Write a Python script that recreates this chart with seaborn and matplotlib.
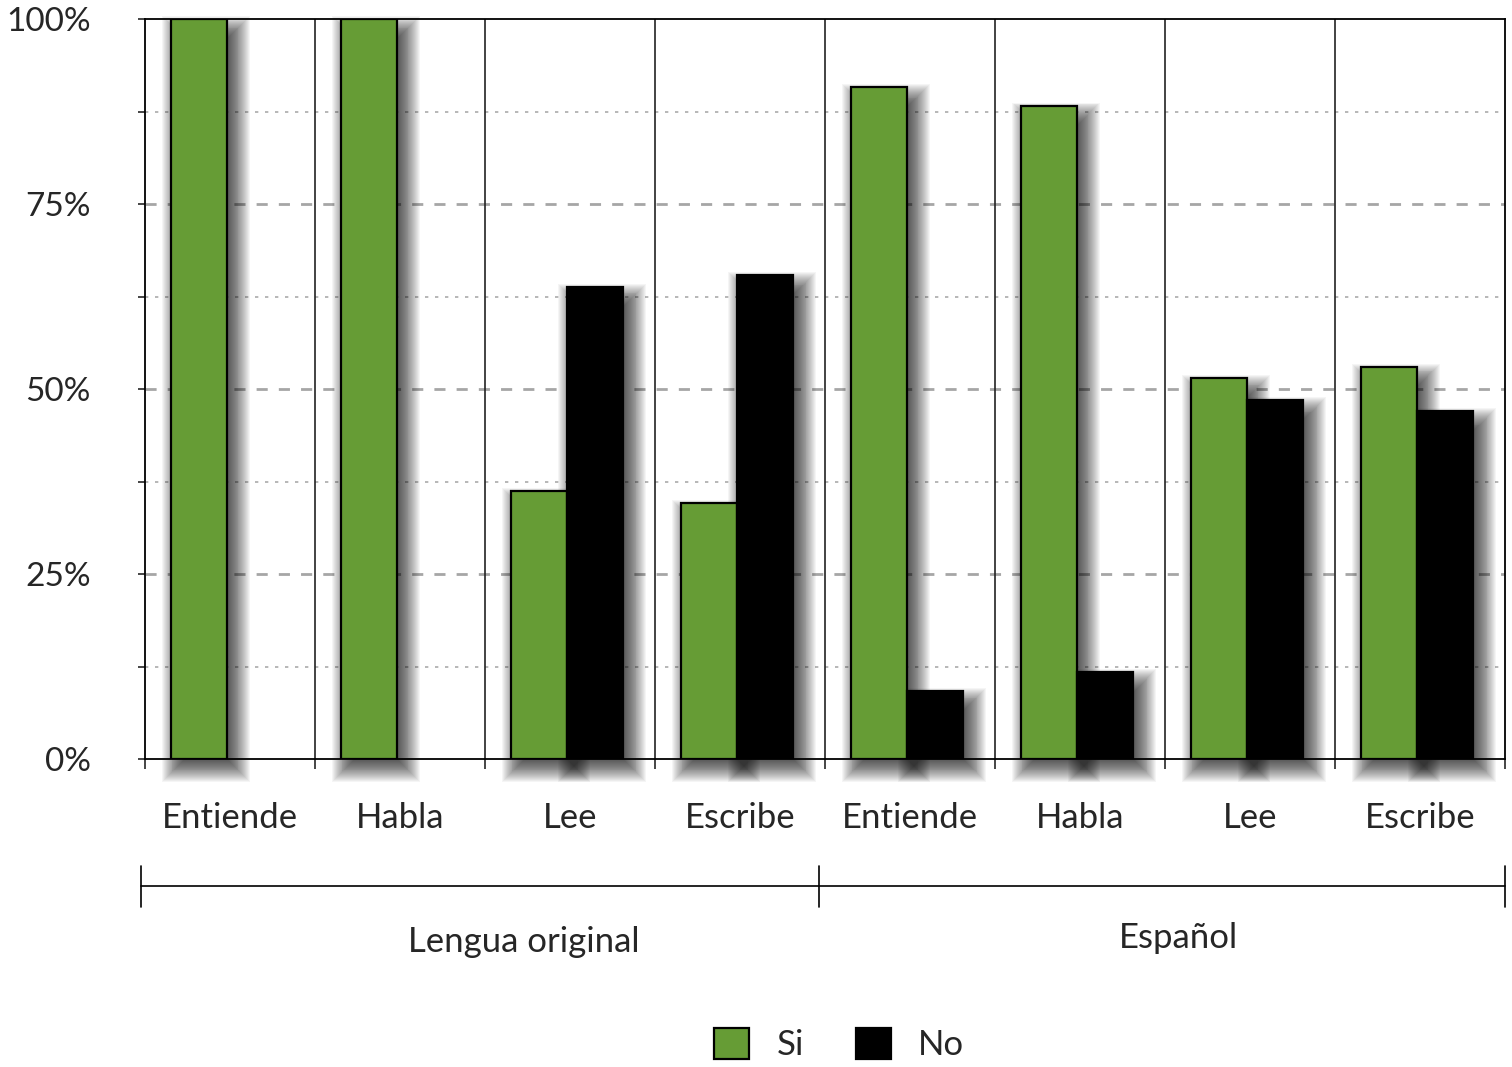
import numpy as np
import pandas as pd
import matplotlib
matplotlib.use("Agg")
from matplotlib import pyplot as plt
from matplotlib.patches import Rectangle, Patch
import matplotlib.transforms as mtransforms
import seaborn as sns

sns.set_style("white")
plt.rcParams["font.family"] = ["Lato", "DejaVu Sans"]

# data
habilidades = ["Entiende", "Habla", "Lee", "Escribe"]
grupos = ["Lengua original", "Español"]
respuestas = ["Si", "No"]
si = [100, 100, 36.2, 34.6, 90.8, 88.3, 51.5, 53.0]
no = [0, 0, 63.8, 65.4, 9.2, 11.7, 48.5, 47.0]
colores = ["#669C35", "#000000"]

cats = [g + "|" + h for g in grupos for h in habilidades]
df = pd.DataFrame({
    "cat": cats * 2,
    "resp": ["Si"] * len(cats) + ["No"] * len(cats),
    "valor": si + no,
})

W, H = 1512, 1067
fig = plt.figure(figsize=(W / 100, H / 100), dpi=100)
ax = fig.add_axes([145 / W, 1 - 759 / H, 1360 / W, 740 / H])

sns.barplot(data=df, x="cat", y="valor", hue="resp", hue_order=respuestas,
            palette=colores, saturation=1, width=0.66, edgecolor="black",
            linewidth=1.6, legend=False, ax=ax, zorder=4)

ax.set_xlim(-0.5, len(cats) - 0.5)
ax.set_ylim(0, 100)

px_x = len(cats) / 1360.0
px_y = 100 / 740.0

# nudge bars a little left like the original, hide empty ones
bars = []
for p in ax.patches:
    if not isinstance(p, Rectangle):
        continue
    p.set_x(p.get_x() - 3 * px_x)
    if p.get_height() <= 0:
        p.set_linewidth(0)
    else:
        bars.append(p)

# soft blurred shadow under each bar
for b in bars:
    x0, w, h = b.get_x(), b.get_width(), b.get_height()
    dx, dy = 7, 7
    for r in np.linspace(-8, 16, 26):
        ax.add_patch(Rectangle((x0 + (dx - r) * px_x, -(dy + r) * px_y),
                               w + 2 * r * px_x, h + 2 * r * px_y - 6 * px_y,
                               facecolor="black", edgecolor="none",
                               alpha=0.04, zorder=3, clip_on=False))

# grid
ax.set_yticks([0, 25, 50, 75, 100])
ax.set_yticks([12.5, 37.5, 62.5, 87.5], minor=True)
ax.set_yticklabels(["0%", "25%", "50%", "75%", "100%"])
ax.grid(False)
for yv in [25, 50, 75]:
    ax.axhline(yv, color="#A6A6A6", lw=2, ls=(0, (4, 4)), zorder=1)
for yv in [12.5, 37.5, 62.5, 87.5]:
    ax.axhline(yv, color="#AAAAAA", lw=1.2, ls=(0, (2, 4)), zorder=1)

ax.vlines(np.arange(0.5, len(cats) - 0.5, 1), 0, 100, color="#222222",
          lw=1.2, zorder=2)

for s in ax.spines.values():
    s.set_color("black")
    s.set_linewidth(1.3)
    s.set_visible(True)
    s.set_zorder(5)

ax.set_xticks(range(len(cats)))
ax.set_xticklabels(habilidades * 2)
ax.set_xticks(np.arange(-0.5, len(cats), 1), minor=True)
ax.tick_params(axis="x", which="major", length=0, pad=31, labelsize=25)
ax.tick_params(axis="x", which="minor", length=7, width=1.2, direction="out",
               bottom=True)
ax.tick_params(axis="y", which="both", length=5, width=1.2, direction="out",
               left=True, pad=34, labelsize=24)
ax.set_xlabel("")
ax.set_ylabel("")

# group bracket
tr = mtransforms.blended_transform_factory(ax.transData, ax.transAxes)
yb = (759 - 886) / 740
xl, xm, xr = -0.5 - 4 * px_x, 3.5 - 6 * px_x, len(cats) - 0.5
ax.plot([xl, xr], [yb, yb], color="black", lw=1.2, transform=tr,
        clip_on=False)
for xv in [xl, xm, xr]:
    ax.plot([xv, xv], [(759 - 866) / 740, (759 - 907) / 740], color="black",
            lw=1.2, transform=tr, clip_on=False)
ax.text(1.73, (759 - 942) / 740, grupos[0], transform=tr, ha="center",
        va="center", fontsize=25)
ax.text(5.58, (759 - 938) / 740, grupos[1], transform=tr, ha="center",
        va="center", fontsize=25)

handles = [Patch(facecolor=c, edgecolor="black", linewidth=1.6) for c in colores]
fig.legend(handles, respuestas, loc="center", bbox_to_anchor=(0.555, 0.021),
           ncol=2, frameon=False, fontsize=25, handlelength=1.0,
           handleheight=1.0, handletextpad=0.8, columnspacing=1.5)

fig.savefig("out.png", dpi=100)
